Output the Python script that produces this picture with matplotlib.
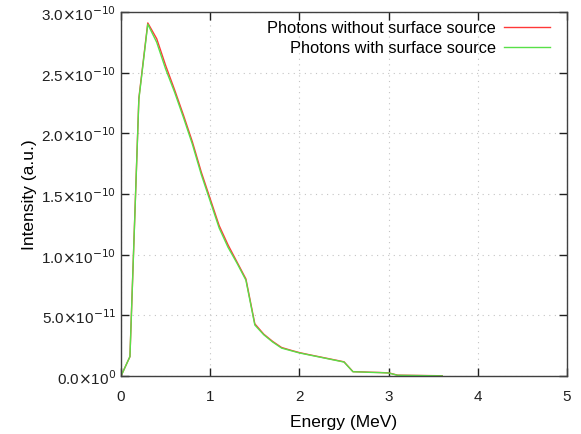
import matplotlib
matplotlib.use('Agg')
import matplotlib.pyplot as plt
from matplotlib.ticker import FixedLocator, FuncFormatter

plt.rcParams['font.family'] = ['Liberation Sans', 'DejaVu Sans']

# Energia (MeV)
energia = [0.0, 0.1, 0.2, 0.3, 0.4, 0.5, 0.6, 0.7, 0.8, 0.9, 1.0,
           1.1, 1.2, 1.3, 1.4, 1.5, 1.6, 1.7, 1.8, 1.9, 2.0,
           2.1, 2.2, 2.3, 2.4, 2.5, 2.6, 2.7, 2.8, 2.9, 3.0,
           3.1, 3.2, 3.3, 3.4, 3.5, 3.6]

# Intensidad (a.u.)
sin_superficie = [0.0, 0.16e-10, 2.29e-10, 2.91e-10, 2.78e-10, 2.56e-10, 2.36e-10,
                  2.15e-10, 1.93e-10, 1.68e-10, 1.46e-10, 1.24e-10, 1.08e-10,
                  0.94e-10, 0.80e-10, 0.43e-10, 0.345e-10, 0.285e-10, 0.235e-10,
                  0.213e-10, 0.193e-10, 0.177e-10, 0.162e-10, 0.147e-10,
                  0.132e-10, 0.117e-10, 0.036e-10, 0.034e-10, 0.031e-10,
                  0.029e-10, 0.026e-10, 0.007e-10, 0.006e-10, 0.005e-10,
                  0.004e-10, 0.003e-10, 0.002e-10]
con_superficie = [0.0, 0.16e-10, 2.28e-10, 2.90e-10, 2.75e-10, 2.53e-10, 2.34e-10,
                  2.13e-10, 1.91e-10, 1.66e-10, 1.44e-10, 1.22e-10, 1.06e-10,
                  0.93e-10, 0.79e-10, 0.42e-10, 0.34e-10, 0.28e-10, 0.23e-10,
                  0.21e-10, 0.19e-10, 0.175e-10, 0.16e-10, 0.145e-10,
                  0.13e-10, 0.115e-10, 0.035e-10, 0.033e-10, 0.03e-10,
                  0.028e-10, 0.025e-10, 0.006e-10, 0.005e-10, 0.004e-10,
                  0.003e-10, 0.002e-10, 0.001e-10]

y_ticks = [0, 0.5e-10, 1.0e-10, 1.5e-10, 2.0e-10, 2.5e-10, 3.0e-10]


def formato_y(v, pos):
    if v == 0:
        return r'0.0$\times$10$^{0}$'
    exp = 0
    m = v
    while m < 1:
        m *= 10
        exp -= 1
    return r'%.1f$\times$10$^{%d}$' % (m, exp)


fig = plt.figure(figsize=(5.81, 4.35), dpi=100)
ax = fig.add_axes([0.2083, 0.1333, 0.7677, 0.8368])

ax.plot(energia, sin_superficie, color='#ff3838', lw=1.0,
        label='Photons without surface source')
ax.plot(energia, con_superficie, color='#58e048', lw=1.0,
        label='Photons with surface source')

ax.set_xlim(0, 5)
ax.set_ylim(0, 3.0e-10)
ax.xaxis.set_major_locator(FixedLocator([0, 1, 2, 3, 4, 5]))
ax.yaxis.set_major_locator(FixedLocator(y_ticks))
ax.yaxis.set_major_formatter(FuncFormatter(formato_y))

ax.grid(True, color='#c4c4c4', linestyle=(0, (1, 4)), linewidth=0.8)
ax.tick_params(direction='in', top=True, right=True, length=6,
               labelsize=11, colors='#202020', width=1.0)
ax.tick_params(axis='x', pad=9)
for s in ax.spines.values():
    s.set_color('#404040')
    s.set_linewidth(1.0)

ax.set_xlabel('Energy (MeV)', fontsize=12.5, labelpad=8)
ax.set_ylabel('Intensity (a.u.)', fontsize=12.5, labelpad=3)

ax.legend(loc='upper right', bbox_to_anchor=(0.993, 1.015), frameon=False,
          markerfirst=False, fontsize=11.8, handlelength=2.8,
          handletextpad=0.5, borderaxespad=0.45, labelspacing=0.3)

fig.savefig('out.png', dpi=100)
